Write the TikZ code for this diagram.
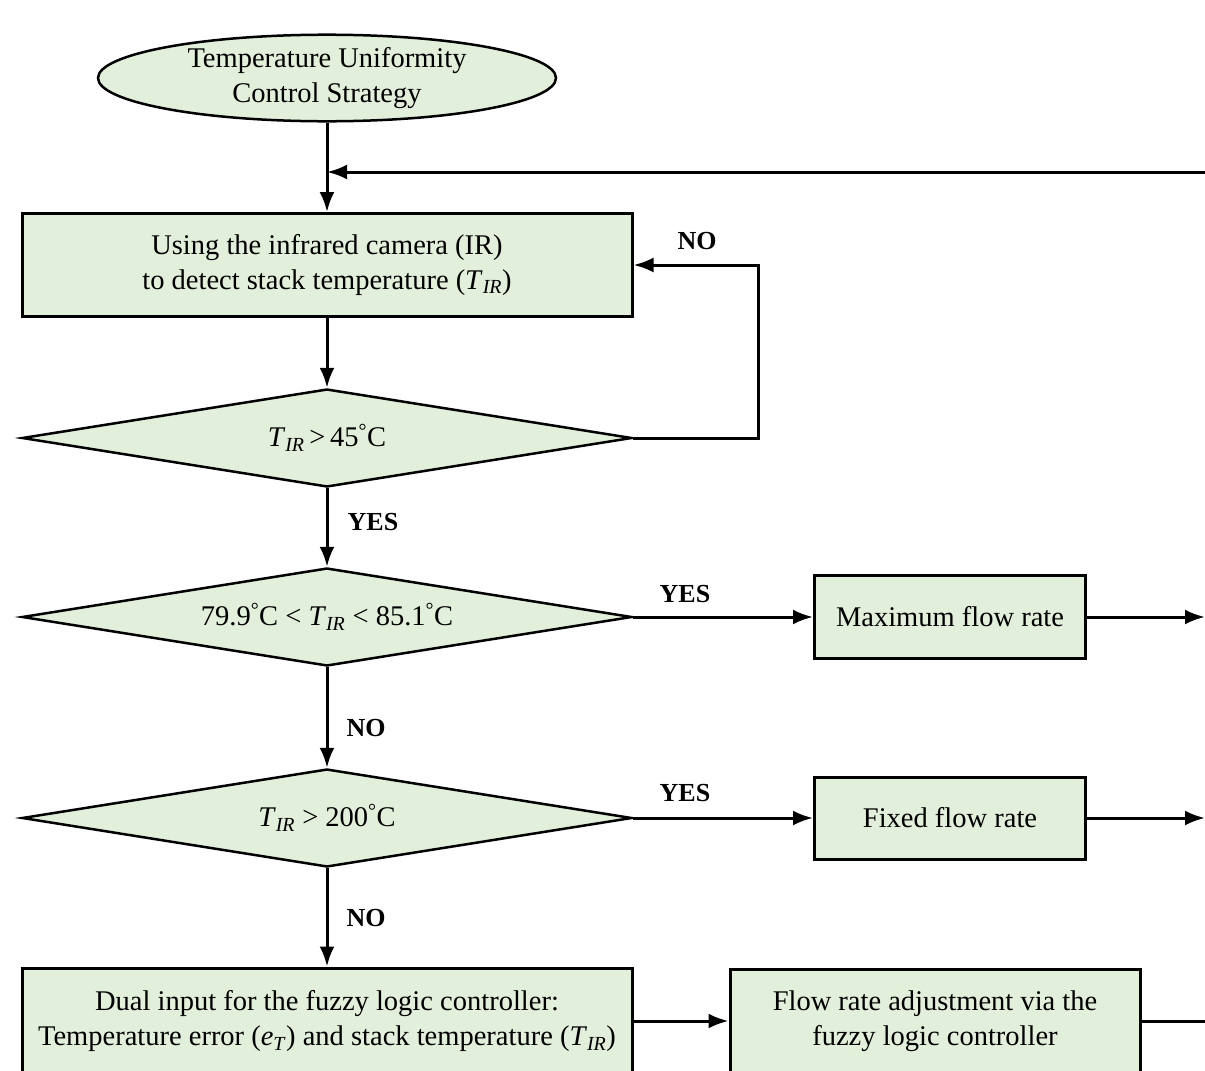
\documentclass[tikz,border=0pt]{standalone}
\usepackage{fontspec}
\setmainfont{Liberation Serif}
\usetikzlibrary{shapes.geometric,arrows.meta}
\definecolor{boxgreen}{RGB}{226,239,218}
\newcommand{\tir}{\textit{T}\textsubscript{\textit{IR}}}
\newcommand{\etemp}{\textit{e}\textsubscript{\textit{T}}}
\newcommand{\degc}{\textsuperscript{\textdegree}C}
\tikzset{
  flowbox/.style={draw, line width=3pt, fill=boxgreen, align=center, inner sep=0pt},
  decision/.style={diamond, aspect=6, draw, line width=2.5pt, fill=boxgreen, inner sep=0pt},
  startnode/.style={ellipse, draw, line width=2.5pt, fill=boxgreen, align=center, inner sep=0pt},
  flowline/.style={line width=3pt, -{Latex[length=20pt,width=15pt]}},
  answer/.style={font=\bfseries\fontsize{26}{30}\selectfont}
}
\begin{document}
\begin{tikzpicture}[x=1pt, y=-1pt, font=\fontsize{28.5}{35}\selectfont]
\useasboundingbox (0,0) rectangle (1205,1071);
\clip (0,0) rectangle (1205,1071);
% shapes
\node[startnode, minimum width=458pt, minimum height=78pt] (start) at (327,78)
  {Temperature Uniformity\\Control Strategy};
\node[flowbox, minimum width=610pt, minimum height=103pt] (camera) at (327,265)
  {Using the infrared camera (IR)\\to detect stack temperature (\tir)};
\node[decision, minimum width=610pt, minimum height=98pt] (check45) at (327,438)
  {\tir\,>\,45\degc};
\node[decision, minimum width=610pt, minimum height=98pt] (range) at (327,617)
  {79.9\degc\ <\ \tir\ <\ 85.1\degc};
\node[decision, minimum width=610pt, minimum height=98pt] (check200) at (327,818)
  {\tir\ >\ 200\degc};
\node[flowbox, minimum width=271pt, minimum height=83pt] (maxbox) at (950,617)
  {Maximum flow rate};
\node[flowbox, minimum width=271pt, minimum height=82pt] (fixbox) at (950,818)
  {Fixed flow rate};
\node[flowbox, minimum width=610pt, minimum height=106pt] (dualbox) at (327,1021)
  {Dual input for the fuzzy logic controller:\\Temperature error (\etemp) and stack temperature (\tir)};
\node[flowbox, minimum width=410pt, minimum height=104pt] (fuzzybox) at (935,1021)
  {Flow rate adjustment via the\\fuzzy logic controller};
% labels
\node[answer] (no1) at (697,241) {NO};
\node[answer] (yes1) at (373,522) {YES};
\node[answer] (yes2) at (685,594) {YES};
\node[answer] (no2) at (366,728) {NO};
\node[answer] (yes3) at (685,793) {YES};
\node[answer] (no3) at (366,918) {NO};
% connectors
\coordinate (fbin) at (1205,172);
\coordinate (maxout) at (1205,617);
\coordinate (fixout) at (1205,818);
\coordinate (fuzzyout) at (1205,1021);
\draw[flowline] (fbin) -- (start.south |- fbin);
\draw[flowline] (start.south) -- (camera.north);
\draw[flowline] (camera.south) -- (check45.north);
\draw[flowline] (check45.east) -- ++(125,0) |- (camera.east);
\draw[flowline] (check45.south) -- (range.north);
\draw[flowline] (range.east) -- (maxbox.west);
\draw[flowline] (maxbox.east) -- (maxout);
\draw[flowline] (range.south) -- (check200.north);
\draw[flowline] (check200.east) -- (fixbox.west);
\draw[flowline] (fixbox.east) -- (fixout);
\draw[flowline] (check200.south) -- (dualbox.north);
\draw[flowline] (dualbox.east) -- (fuzzybox.west);
\draw[line width=3pt] (fuzzybox.east) -- (fuzzyout);
\end{tikzpicture}
\end{document}
